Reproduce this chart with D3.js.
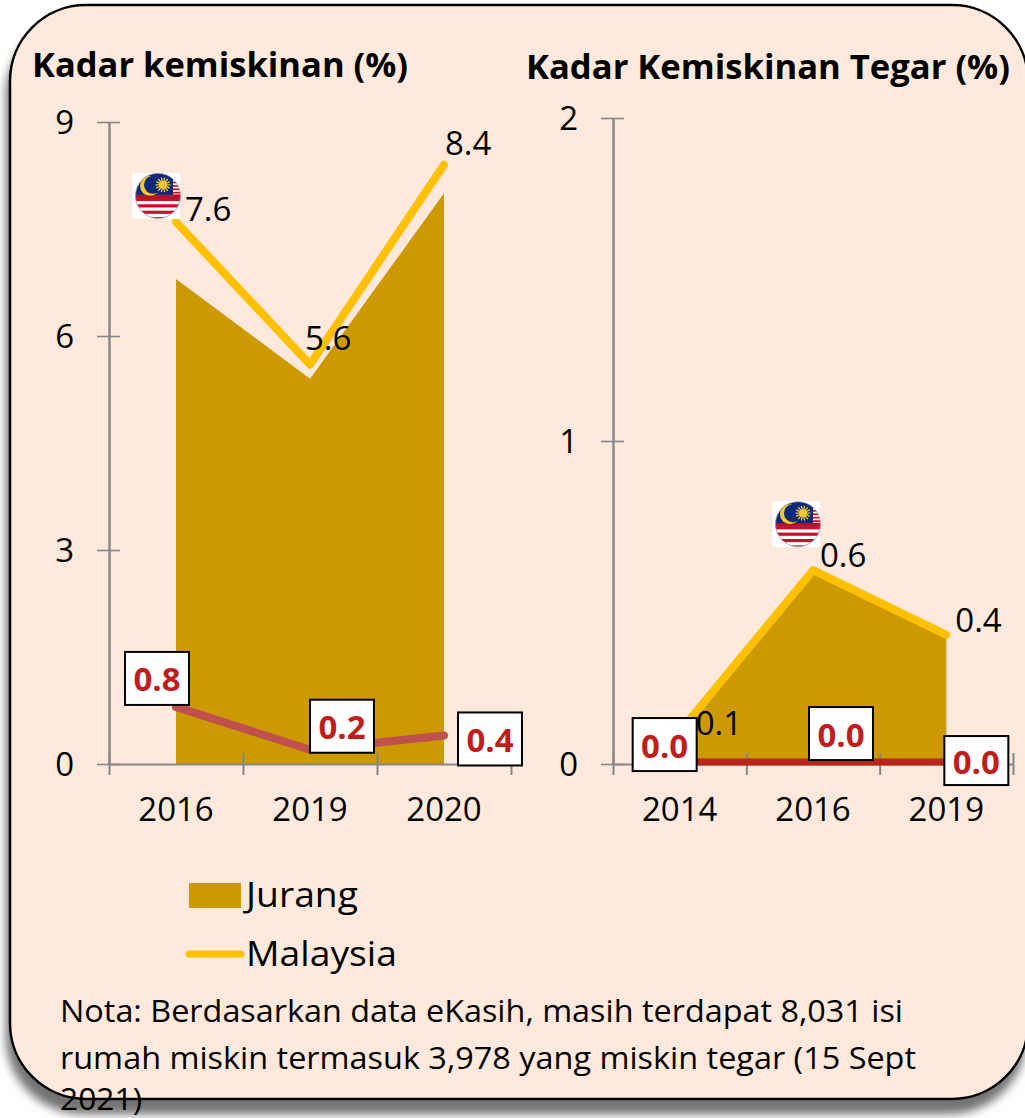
<!DOCTYPE html>
<html><head><meta charset="utf-8">
<script src="https://cdnjs.cloudflare.com/ajax/libs/d3/7.8.5/d3.min.js"></script>
<style>html,body{margin:0;padding:0;background:#fff}svg{display:block}text{font-family:"Open Sans",Lato,sans-serif}</style>
</head><body><svg id="c" width="1025" height="1118"></svg>
<script>
const leftYears=["2016","2019","2020"];
const leftJurang=[6.8,5.4,8.0];
const leftMalaysia=[7.6,5.6,8.4];
const leftRed=[0.8,0.2,0.4];
const leftTicks=[0,3,6,9];
const rightYears=["2014","2016","2019"];
const rightJurang=[0.09,0.59,0.39];
const rightMalaysia=[0.1,0.6,0.4];
const rightRed=[0.006,0.006,0.006];
const rightRedLabels=["0.0","0.0","0.0"];
const rightTicks=[0,1,2];
const noteLines=["Nota: Berdasarkan data eKasih, masih terdapat 8,031 isi","rumah miskin termasuk 3,978 yang miskin tegar (15 Sept","2021)"];
const noteWidths=[843,856,82];

const svg=d3.select("#c");
const defs=svg.append("defs");
const f=defs.append("filter").attr("id","sh").attr("x","-10%").attr("y","-10%").attr("width","120%").attr("height","120%");
f.append("feDropShadow").attr("dx",-3).attr("dy",14).attr("stdDeviation",5).attr("flood-color","#000").attr("flood-opacity",0.55);
svg.append("rect").attr("x",10).attr("y",5).attr("width",1018).attr("height",1094).attr("rx",76).attr("ry",76)
  .attr("fill","#FEE9DC").attr("stroke","#000").attr("stroke-width",2.5).attr("filter","url(#sh)");

const AX="#868686",GOLD="#CC9900",YEL="#FFC000";
function panel(o){
  const g=svg.append("g");
  const x=d3.scaleBand().domain(o.years).range([o.x0,o.x1]);
  const e=d3.scaleLinear().domain([0,3]).range([o.x0,o.x1]);
  const y=d3.scaleLinear().domain([0,o.ymax]).range([o.y0,o.ytop]);
  const cx=d=>x(d)+x.bandwidth()/2;
  g.append("path").datum(o.years.map((d,i)=>[cx(d),o.jurang[i]]))
    .attr("d",d3.area().x(d=>d[0]).y0(y(0)).y1(d=>y(d[1]))).attr("fill",GOLD);
  const ya=g.append("g").attr("transform",`translate(${o.x0},0)`)
    .call(d3.axisLeft(y).tickValues(o.ticks).tickFormat(d3.format("d")).tickSize(12).tickSizeOuter(0).tickPadding(23));
  ya.selectAll("line").attr("x2",-12).attr("x1",11).attr("stroke",AX).attr("stroke-width",1.6);
  ya.select(".domain").attr("stroke",AX).attr("stroke-width",2.4);
  ya.selectAll("text").attr("font-size",33).attr("fill","#000").attr("dy","0.34em").style("font-family","Open Sans");
  const xe=g.append("g").attr("transform",`translate(0,${o.y0})`)
    .call(d3.axisBottom(e).tickValues([0,1,2,3]).tickSize(11).tickSizeOuter(0).tickFormat(""));
  xe.selectAll("line").attr("y1",-11).attr("stroke",AX).attr("stroke-width",2);
  xe.select(".domain").attr("stroke",AX).attr("stroke-width",2);
  const xl=g.append("g").attr("transform",`translate(0,${o.y0})`)
    .call(d3.axisBottom(x).tickSize(0).tickPadding(34));
  xl.select(".domain").remove();
  xl.selectAll("text").attr("font-size",33).attr("fill","#000").style("font-family","Open Sans");
  const line=d3.line().x(d=>d[0]).y(d=>y(d[1]));
  g.append("path").datum(o.years.map((d,i)=>[cx(d),o.malaysia[i]])).attr("d",line).attr("fill","none")
    .attr("stroke",YEL).attr("stroke-width",8).attr("stroke-linecap","round").attr("stroke-linejoin","round");
  g.append("path").datum(o.years.map((d,i)=>[cx(d),o.red[i]])).attr("d",line).attr("fill","none")
    .attr("stroke",o.redColor).attr("stroke-width",o.redW).attr("stroke-linecap","round").attr("stroke-linejoin","round");
  o.years.forEach((d,i)=>{
    g.append("text").attr("x",cx(d)+o.valOff[i][0]).attr("y",y(o.malaysia[i])+o.valOff[i][1])
      .attr("font-size",33).attr("fill","#000").text(o.malaysia[i].toFixed(1));
    const bx=cx(d)+o.boxOff[i][0],by=y(o.red[i])+o.boxOff[i][1],bh=o.boxOff[i][2]||53;
    g.append("rect").attr("x",bx).attr("y",by).attr("width",64).attr("height",bh)
      .attr("fill","#fff").attr("stroke","#000").attr("stroke-width",2);
    g.append("text").attr("x",bx+32).attr("y",by+bh/2+13).attr("text-anchor","middle")
      .attr("font-size",33).attr("font-weight",700).attr("fill","#BE1E1E").text(o.redLabels[i]);
  });
  const fx=cx(o.years[o.flagIdx])+o.flagOff[0],fy=y(o.malaysia[o.flagIdx])+o.flagOff[1];
  drawFlag(g,fx,fy,o.id);
}
function drawFlag(g,fx,fy,id){
  const fg=g.append("g").attr("transform",`translate(${fx},${fy})`);
  fg.append("rect").attr("x",-26).attr("y",-23).attr("width",48).attr("height",46).attr("fill","#fff");
  defs.append("clipPath").attr("id","cl"+id).append("circle").attr("r",22.5);
  const c=fg.append("g").attr("clip-path",`url(#cl${id})`);
  c.append("rect").attr("x",-23).attr("y",-23).attr("width",46).attr("height",46).attr("fill","#fff");
  d3.range(7).forEach(i=>{
    c.append("rect").attr("x",-23).attr("y",-21+i*3.4).attr("width",46).attr("height",1.7).attr("fill","#C8102E");
    c.append("rect").attr("x",-23).attr("y",2+i*6.4).attr("width",46).attr("height",3.2).attr("fill","#C8102E");
  });
  c.append("rect").attr("x",-23).attr("y",-1.5).attr("width",46).attr("height",4).attr("fill","#B5122E");
  c.append("rect").attr("x",-23).attr("y",-23).attr("width",38).attr("height",22).attr("fill","#0B2A78");
  c.append("circle").attr("cx",-8).attr("cy",-10).attr("r",10).attr("fill","#F2C830");
  c.append("circle").attr("cx",-5).attr("cy",-11).attr("r",9).attr("fill","#0B2A78");
  const sun=c.append("g").attr("transform","translate(5,-11)");
  d3.range(14).forEach(i=>{sun.append("line").attr("x2",7.5).attr("stroke","#F2C830").attr("stroke-width",1.3).attr("transform",`rotate(${i*360/14})`);});
  sun.append("circle").attr("r",3.8).attr("fill","#F2C830");
  fg.append("circle").attr("r",22.5).attr("fill","none").attr("stroke","#99a").attr("stroke-width",0.8);
}
panel({id:"a",years:leftYears,jurang:leftJurang,malaysia:leftMalaysia,red:leftRed,redLabels:leftRed.map(v=>v.toFixed(1)),ticks:leftTicks,
  x0:109,x1:511,y0:764,ytop:122,ymax:9,redColor:"#C0504D",redW:8,
  valOff:[[9,-1],[-5,-15],[1,-10]],boxOff:[[-51,-55],[0,-50],[14,-23]],flagIdx:0,flagOff:[-18,-26]});
panel({id:"b",years:rightYears,jurang:rightJurang,malaysia:rightMalaysia,red:rightRed,redLabels:rightRedLabels,ticks:rightTicks,
  x0:613,x1:1013,y0:764,ytop:118,ymax:2,redColor:"#B7261B",redW:7,
  valOff:[[16,3],[7,-3],[9,-3]],boxOff:[[-47,-44],[-4,-55],[-2,-26,49]],flagIdx:1,flagOff:[-15,-46]});

function fit(x,y,size,w,t,bold){
  const n=svg.append("text").attr("x",x).attr("y",y).attr("font-size",size).attr("textLength",w).attr("lengthAdjust","spacingAndGlyphs").text(t);
  if(bold)n.attr("font-weight",700);
}
fit(32,77,34,376,"Kadar kemiskinan (%)",true);
fit(526,79,34,484,"Kadar Kemiskinan Tegar (%)",true);
svg.append("rect").attr("x",189).attr("y",883).attr("width",52).attr("height",25).attr("fill",GOLD);
fit(246,907,35,112,"Jurang");
svg.append("line").attr("x1",189).attr("x2",241).attr("y1",954).attr("y2",954).attr("stroke",YEL).attr("stroke-width",7).attr("stroke-linecap","round");
fit(246,966,35,151,"Malaysia");
noteLines.forEach((t,i)=>fit(60,[1022,1069,1110][i],31,noteWidths[i],t));
</script></body></html>
